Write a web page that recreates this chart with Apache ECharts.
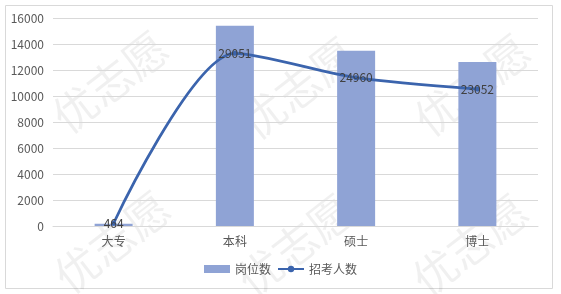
<!DOCTYPE html>
<html><head><meta charset="utf-8">
<script src="https://cdn.jsdelivr.net/npm/echarts@6/dist/echarts.min.js"></script>
<style>html,body{margin:0;padding:0;background:#fff}#c{width:561px;height:294px}</style>
</head><body><div id="c"></div>
<script>
var categories = ['大专', '本科', '硕士', '博士'];
var posts = [180, 15400, 13480, 12620];
var applicants = [464, 29051, 24960, 23052];
var yTicks = [0, 2000, 4000, 6000, 8000, 10000, 12000, 14000, 16000];

var chart = echarts.init(document.getElementById('c'));
var font = '"Microsoft YaHei","Noto Sans CJK SC",sans-serif';
var wm = [];
[[110,82],[298,88],[472,85],[112,242],[295,245],[470,245]].forEach(function(p){
  wm.push({type:'text', x:p[0], y:p[1], rotation:Math.PI*38/180, z:-1,
    style:{text:'优志愿', font:'44px "Noto Sans CJK SC"', fill:'rgba(0,0,0,0.06)', align:'center', verticalAlign:'middle'}});
});
chart.setOption({
  animation:false,
  textStyle:{fontFamily:font},
  graphic: wm.concat([{type:'rect', shape:{x:5.5,y:5.5,width:547,height:283}, style:{fill:'none', stroke:'#d9d9d9', lineWidth:1}, z:-2}]),
  grid:{left:53, right:23, top:18, bottom:68},
  legend:{bottom:14, left:'center', itemWidth:26, itemHeight:8, itemGap:6,
    textStyle:{color:'#595959', fontSize:12, fontFamily:font},
    data:[{name:'岗位数', icon:'rect'}, {name:'招考人数'}]},
  xAxis:{type:'category', data:categories,
    axisLine:{lineStyle:{color:'#d9d9d9'}}, axisTick:{show:false},
    axisLabel:{color:'#595959', fontSize:12, margin:9}},
  yAxis:[{type:'value', min:yTicks[0], max:yTicks[yTicks.length-1], interval:yTicks[1]-yTicks[0],
    axisLine:{show:false}, axisTick:{show:false},
    splitLine:{lineStyle:{color:'#d9d9d9'}},
    axisLabel:{color:'#595959', fontSize:12, margin:9, formatter:function(v){return String(v);}}},
    {type:'value', min:0, max:35000, show:false, splitLine:{show:false}}],
  series:[
    {name:'岗位数', type:'bar', data:posts, barWidth:38, itemStyle:{color:'#8FA3D5'}},
    {name:'招考人数', type:'line', yAxisIndex:1, data:applicants, smooth:0.27,
      symbol:'circle', symbolSize:5, showSymbol:true,
      lineStyle:{color:'#3B64AD', width:2.75}, itemStyle:{color:'#3B64AD'},
      label:{show:true, position:'inside', color:'#404040', fontSize:12}}
  ]
});
</script></body></html>
